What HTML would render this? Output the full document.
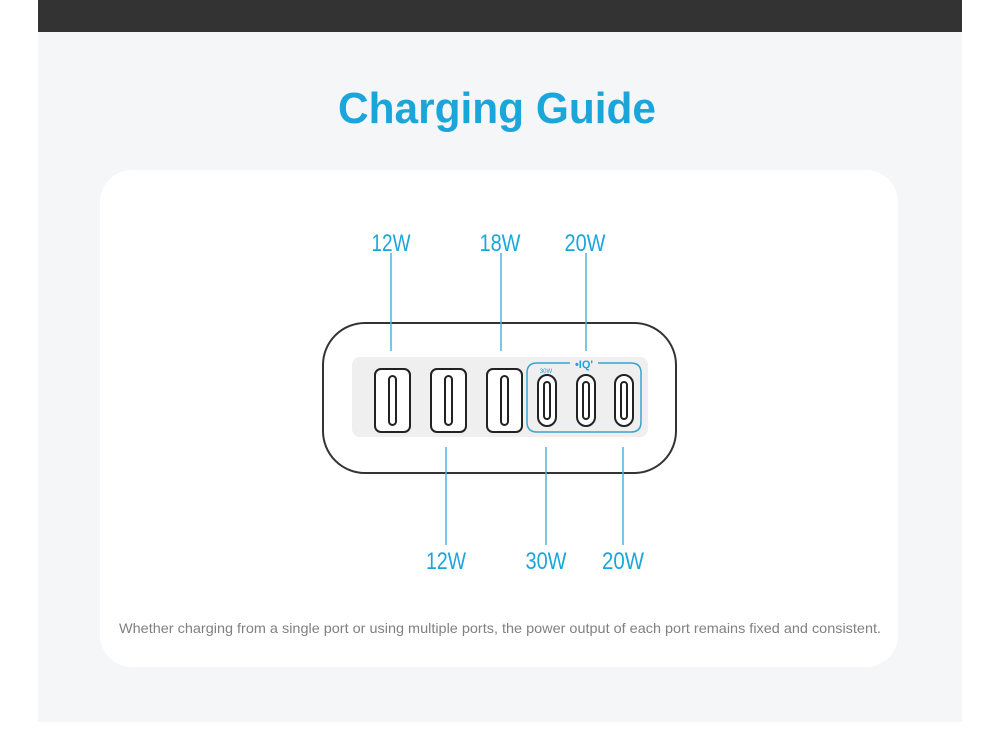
<!DOCTYPE html>
<html><head><meta charset="utf-8"><style>
html,body{margin:0;padding:0;background:#fff;width:1000px;height:735px;overflow:hidden}
svg{display:block}
</style></head><body>
<svg width="1000" height="735" viewBox="0 0 1000 735" xmlns="http://www.w3.org/2000/svg">
<rect x="0" y="0" width="1000" height="735" fill="#fff"/>
<rect x="38" y="0" width="924" height="32" fill="#333333"/>
<rect x="38" y="32" width="924" height="690" fill="#f5f6f8"/>
<text x="497" y="123" text-anchor="middle" font-family="Liberation Sans Narrow, Liberation Sans, sans-serif" font-weight="bold" font-size="44" fill="#1ba6db" textLength="318" lengthAdjust="spacingAndGlyphs">Charging Guide</text>
<rect x="100" y="170" width="798" height="497" rx="32" fill="#fff"/>
<!-- device -->
<rect x="323" y="323" width="353" height="150" rx="42" fill="#fff" stroke="#333" stroke-width="2"/>
<rect x="352" y="357" width="296" height="80" rx="8" fill="#efeff0"/>
<g fill="#fff" stroke="#222" stroke-width="2">
<rect x="375" y="369" width="35" height="63" rx="6"/>
<rect x="431" y="369" width="35" height="63" rx="6"/>
<rect x="487" y="369" width="35" height="63" rx="6"/>
<rect x="389" y="376" width="7" height="49" rx="3.5"/>
<rect x="445" y="376" width="7" height="49" rx="3.5"/>
<rect x="501" y="376" width="7" height="49" rx="3.5"/>
<rect x="538" y="375" width="18" height="51" rx="9"/>
<rect x="577" y="375" width="18" height="51" rx="9"/>
<rect x="615" y="375" width="18" height="51" rx="9"/>
<rect x="544" y="382" width="6" height="37" rx="3"/>
<rect x="583" y="382" width="6" height="37" rx="3"/>
<rect x="621" y="382" width="6" height="37" rx="3"/>
</g>
<path d="M570 363 H537 Q527 363 527 373 V422 Q527 432 537 432 H631 Q641 432 641 422 V373 Q641 363 631 363 H598" fill="none" stroke="#3aa3cf" stroke-width="1.5"/>
<text x="584" y="368" text-anchor="middle" font-family="Liberation Sans, sans-serif" font-weight="bold" font-size="11" fill="#1ba6db">•IQ'</text>
<text x="546" y="373" text-anchor="middle" font-family="Liberation Sans, sans-serif" font-size="6" fill="#1ba6db">30W</text>
<!-- lines -->
<g stroke="#4fb3da" stroke-width="1.5">
<line x1="391" y1="253" x2="391" y2="351"/>
<line x1="501" y1="253" x2="501" y2="351"/>
<line x1="586" y1="253" x2="586" y2="351"/>
<line x1="446" y1="447" x2="446" y2="545"/>
<line x1="546" y1="447" x2="546" y2="545"/>
<line x1="623" y1="447" x2="623" y2="545"/>
</g>
<g font-family="Liberation Sans Narrow, Liberation Sans, sans-serif" font-size="24" fill="#1ba6db" text-anchor="middle">
<text x="391" y="251" textLength="39" lengthAdjust="spacingAndGlyphs">12W</text>
<text x="500" y="251" textLength="41" lengthAdjust="spacingAndGlyphs">18W</text>
<text x="585" y="251" textLength="41" lengthAdjust="spacingAndGlyphs">20W</text>
<text x="446" y="569" textLength="40" lengthAdjust="spacingAndGlyphs">12W</text>
<text x="546" y="569" textLength="41" lengthAdjust="spacingAndGlyphs">30W</text>
<text x="623" y="569" textLength="42" lengthAdjust="spacingAndGlyphs">20W</text>
</g>
<text x="500" y="633" text-anchor="middle" font-family="Liberation Sans Narrow, Liberation Sans, sans-serif" font-size="14" fill="#808080" textLength="762" lengthAdjust="spacingAndGlyphs">Whether charging from a single port or using multiple ports, the power output of each port remains fixed and consistent.</text>
</svg>
</body></html>
